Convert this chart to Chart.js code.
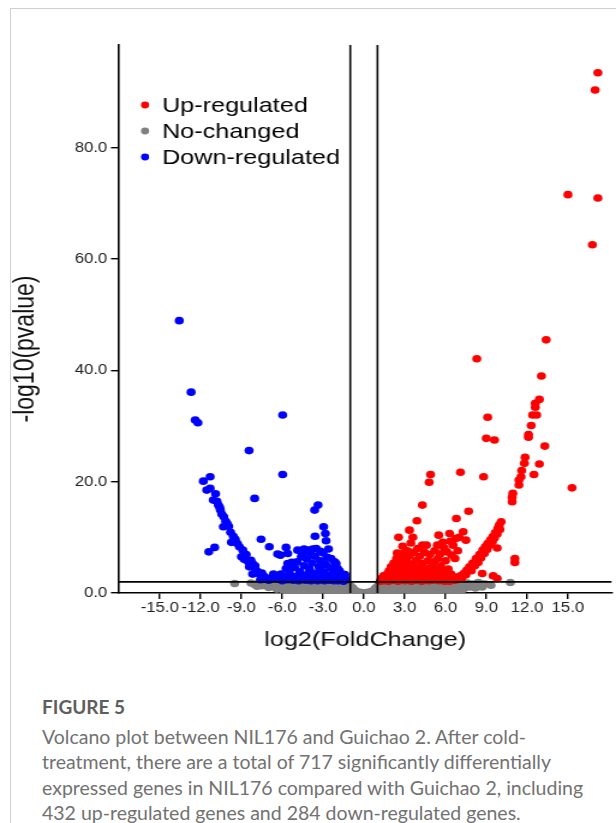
<!DOCTYPE html>
<html>
<head>
<meta charset="utf-8">
<script src="https://cdn.jsdelivr.net/npm/chart.js@4.4.1/dist/chart.umd.min.js"></script>
<style>
  html, body { margin: 0; padding: 0; background: #fff; width: 616px; height: 823px; overflow: hidden; }
  .card { position: absolute; left: 10px; top: 8px; width: 700px; height: 900px; border-left: 1px solid #cfcfcf; border-top: 1px solid #cfcfcf; }
  #volcano { position: absolute; left: 0; top: 0; transform-origin: 0 0; transform: scaleX(1.2008); }
  .fig-label { position: absolute; left: 42px; top: 695px; font: 700 19px Lato, sans-serif; line-height: 24px; color: #5e5e5e; }
  .caption { position: absolute; left: 42px; top: 724px; font: 400 19.5px Lato, sans-serif; line-height: 25.4px; color: #727272; white-space: nowrap; }
</style>
</head>
<body>
<div class="card"></div>
<canvas id="volcano" width="513" height="660" style="width:513px;height:660px"></canvas>
<div class="fig-label">FIGURE 5</div>
<div class="caption">Volcano plot between NIL176 and Guichao 2. After cold-<br>treatment, there are a total of 717 significantly differentially<br>expressed genes in NIL176 compared with Guichao 2, including<br>432 up-regulated genes and 284 down-regulated genes.</div>
<script>
// axis ticks and thresholds
const xTicks = [-15, -12, -9, -6, -3, 0, 3, 6, 9, 12, 15];
const yTicks = [0, 20, 40, 60, 80];
const foldCut = 1;     // |log2FC| line
const pCut = 2;        // -log10(p) line

const seriesNames = ['Up-regulated', 'No-changed', 'Down-regulated'];
const seriesColors = ['#ff0000', '#808080', '#0000ff'];

// [log2FC, -log10(p)]
const upPoints = [
    [17.2, 93.5], [17.0, 90.4], [15.0, 71.6], [17.2, 71.0], [16.8, 62.6], [15.3, 18.9],
    [13.4, 45.5], [8.3, 42.1], [13.05, 39.0], [12.9, 34.8], [12.6, 34.1], [12.6, 33.4],
    [12.4, 32.0], [12.7, 32.0], [12.3, 30.1], [12.1, 28.5], [12.1, 28.0], [9.1, 31.6],
    [9.0, 27.8], [9.6, 27.5], [13.3, 26.4], [11.85, 24.4], [11.8, 23.3], [12.9, 23.2],
    [12.5, 21.3], [11.6, 22.0], [11.55, 20.9], [11.4, 20.3], [11.4, 19.4], [10.95, 17.9],
    [10.9, 17.2], [10.9, 16.4], [8.8, 20.9], [7.1, 21.7], [4.9, 21.3], [4.8, 19.9],
    [4.3, 15.8], [7.7, 14.7], [6.8, 13.4], [3.9, 13.0], [3.35, 11.3], [2.55, 10.0],
    [3.6, 10.0], [5.5, 10.4], [6.3, 10.7], [7.3, 11.0], [7.0, 10.0], [7.5, 9.5],
    [4.3, 8.6], [4.6, 8.6], [11.1, 6.2], [11.1, 5.5], [9.8, 8.1], [6.7, 6.2],
    [8.7, 3.5], [9.5, 3.1], [9.8, 2.6],
    [6.65, 2.3], [6.9, 2.8], [7.1, 3.1], [7.34, 3.5], [7.55, 4.1], [7.76, 4.7],
    [8.0, 5.4], [8.25, 6.2], [8.5, 6.9], [8.74, 7.7], [8.92, 8.3], [9.1, 8.9],
    [9.3, 9.5], [9.47, 10.1], [9.65, 10.8], [9.84, 11.6], [9.95, 12.2], [10.09, 12.8],
    [6.3, 2.1], [6.8, 2.4], [7.2, 2.7], [7.5, 3.3], [7.9, 4.0], [8.15, 4.9],
    [8.4, 5.5], [8.6, 6.3], [8.85, 7.1], [9.05, 7.8], [9.25, 8.6], [9.45, 9.2],
    [9.6, 9.9], [9.8, 10.6], [10.0, 11.4],
    [1.2, 2.1], [1.3, 2.6], [1.45, 3.1], [1.5, 2.2], [1.65, 2.6], [1.7, 3.4],
    [1.8, 2.1], [1.85, 4.0], [1.95, 3.0], [2.0, 4.7], [2.1, 2.3], [2.15, 3.6],
    [2.2, 5.4], [2.3, 2.9], [2.35, 4.3], [2.4, 6.2], [2.45, 7.2], [2.5, 2.1],
    [2.6, 3.3], [2.65, 5.0], [2.7, 2.6], [2.75, 4.1], [2.8, 6.0], [2.85, 8.4],
    [2.9, 7.1], [2.95, 3.6], [3.0, 2.2], [3.05, 4.8], [3.1, 3.0], [3.15, 5.9],
    [3.2, 7.6], [3.25, 2.4], [3.3, 4.2], [3.35, 6.7], [3.4, 3.5], [3.45, 9.0],
    [3.5, 2.1], [3.55, 5.2], [3.6, 2.9], [3.65, 7.3], [3.7, 4.1], [3.8, 2.3],
    [3.85, 5.9], [3.9, 3.5], [3.95, 8.0], [4.0, 2.6], [4.05, 4.6], [4.1, 6.6],
    [4.2, 3.2], [4.25, 2.1], [4.3, 5.3], [4.4, 3.9], [4.45, 7.3], [4.5, 2.5],
    [4.55, 4.4], [4.6, 3.2], [4.7, 5.8], [4.75, 2.2], [4.8, 3.8], [4.85, 6.9],
    [4.95, 2.9], [5.0, 4.8], [5.05, 2.3], [5.1, 3.6], [5.15, 5.6], [5.2, 7.6],
    [5.3, 2.8], [5.35, 4.3], [5.4, 8.6], [5.45, 6.2], [5.5, 2.2], [5.55, 3.4],
    [5.6, 7.0], [5.65, 4.9], [5.7, 2.5], [5.8, 9.1], [5.85, 3.9], [5.9, 8.1],
    [5.95, 2.1], [6.0, 5.8], [6.05, 3.0], [6.1, 7.4], [6.2, 4.3], [6.25, 2.4],
    [6.35, 9.3], [6.4, 3.4], [6.45, 6.8], [6.55, 8.6], [6.6, 2.9], [6.75, 9.8],
    [6.9, 7.6]
];

const noPoints = [
    [-9.5, 1.7], [-8.3, 1.8], [-8.0, 1.5], [-7.7, 1.9], [-7.5, 1.3], [-7.2, 1.7],
    [-7.0, 1.0], [-6.8, 1.8], [-6.6, 1.3], [-6.4, 0.7], [-6.3, 1.8], [-6.1, 1.1],
    [-5.9, 0.5], [-5.8, 1.6], [-5.6, 0.9], [-5.4, 0.3], [-5.3, 1.4], [-5.1, 1.9],
    [-5.0, 0.7], [-4.8, 0.2], [-4.7, 1.3], [-4.5, 0.8], [-4.4, 1.9], [-4.3, 0.3],
    [-4.1, 1.4], [-4.0, 0.6], [-3.8, 0.1], [-3.7, 1.8], [-3.6, 1.0], [-3.4, 0.4],
    [-3.3, 1.5], [-3.1, 0.9], [-3.0, 0.1], [-2.9, 1.9], [-2.7, 1.3], [-2.6, 0.5],
    [-2.4, 1.0], [-2.3, 1.8], [-2.2, 0.2], [-2.0, 1.4], [-1.9, 0.7], [-1.7, 1.9],
    [-1.6, 0.3], [-1.5, 1.2], [-1.3, 0.8], [-1.2, 1.7], [-1.1, 0.3], [-1.0, 1.3],
    [-0.9, 0.6], [-0.8, 0.9], [-0.7, 0.2], [-0.6, 0.4], [-0.4, 0.15], [-0.2, 0.1],
    [0.0, 0.05], [0.2, 0.1], [0.4, 0.15], [0.6, 0.3], [0.7, 0.2], [0.8, 0.7],
    [0.9, 1.0], [1.0, 0.2], [1.1, 1.6], [1.2, 0.8], [1.4, 1.9], [1.5, 0.4],
    [1.6, 1.2], [1.8, 0.1], [1.9, 1.7], [2.0, 0.9], [2.2, 0.3], [2.3, 1.4],
    [2.5, 1.9], [2.6, 0.6], [2.8, 1.1], [2.9, 0.1], [3.1, 1.7], [3.2, 0.5],
    [3.4, 1.2], [3.6, 1.9], [3.7, 0.3], [3.9, 0.9], [4.0, 1.5], [4.2, 0.2],
    [4.3, 1.9], [4.5, 0.7], [4.6, 1.3], [4.8, 0.1], [5.0, 1.8], [5.1, 0.9],
    [5.3, 0.4], [5.4, 1.4], [5.6, 1.9], [5.7, 0.6], [5.9, 1.1], [6.1, 0.2],
    [6.2, 1.7], [6.4, 0.8], [6.5, 1.4], [6.7, 0.4], [6.9, 1.9], [7.0, 1.0],
    [7.2, 0.5], [7.3, 1.5], [7.4, 0.85], [7.6, 1.8], [7.8, 1.1], [8.0, 1.6],
    [8.2, 0.9], [8.4, 1.9], [8.7, 1.1], [8.9, 1.6], [9.35, 1.4], [10.77, 1.9],
    [-7.85, 1.2], [-6.95, 1.5], [-6.5, 1.0], [-5.7, 1.2], [-4.9, 1.1], [-4.2, 1.0],
    [-3.5, 1.3], [-2.8, 0.7], [-2.1, 0.9], [-1.4, 1.5], [1.3, 1.3], [1.7, 0.6],
    [2.4, 1.1], [3.0, 1.4], [3.5, 0.8], [4.1, 1.1], [4.7, 1.6], [5.2, 1.3],
    [5.8, 1.5], [6.3, 1.2], [6.8, 1.3], [7.5, 1.2], [8.1, 1.3], [8.6, 1.7]
];

const downPoints = [
    [-13.57, 48.95], [-12.7, 36.1], [-12.4, 31.1], [-12.2, 30.6], [-5.97, 32.0], [-8.44, 25.6],
    [-5.97, 21.3], [-11.3, 20.9], [-11.8, 20.1], [-11.55, 18.5], [-11.3, 18.8], [-10.9, 17.85],
    [-11.07, 16.7], [-8.03, 17.0], [-10.7, 15.8], [-10.6, 15.4], [-10.55, 14.9], [-10.3, 13.7],
    [-10.16, 12.9], [-10.33, 11.9], [-9.94, 12.0], [-9.8, 10.9], [-9.74, 9.1], [-9.45, 9.65],
    [-9.3, 8.9], [-11.4, 7.4], [-10.97, 8.2], [-8.9, 7.7], [-9.0, 6.5], [-8.8, 6.05],
    [-8.5, 5.6], [-8.42, 4.7], [-8.18, 5.3], [-7.93, 4.1], [-8.18, 3.4], [-7.68, 3.4],
    [-7.39, 3.05], [-7.19, 2.6], [-7.56, 9.65], [-6.95, 8.3], [-6.65, 3.4], [-6.34, 7.0],
    [-6.14, 6.8], [-5.72, 8.2], [-5.6, 7.1], [-5.72, 4.4], [-5.48, 4.1], [-4.87, 7.7],
    [-4.5, 7.2], [-4.13, 7.7], [-3.76, 7.9], [-3.62, 14.9], [-3.37, 15.8], [-2.96, 11.9],
    [-2.83, 10.7], [-2.78, 9.4], [-3.59, 10.2], [-2.41, 6.2], [-2.04, 5.3], [-1.93, 4.4],
    [-1.68, 3.5], [-1.56, 2.9],
    [-10.8, 16.5], [-10.45, 14.2], [-10.05, 12.5], [-9.6, 10.2], [-9.15, 8.3], [-8.65, 6.9],
    [-8.3, 5.9], [-8.0, 4.9], [-7.8, 3.8], [-7.5, 3.6], [-7.3, 2.9], [-7.0, 2.3],
    [-6.8, 2.7], [-7.6, 2.4],
    [-6.3, 2.5], [-6.1, 3.4], [-6.0, 2.2], [-5.8, 3.0], [-5.6, 2.4], [-5.4, 3.2],
    [-5.3, 5.5], [-5.2, 2.3], [-5.1, 4.6], [-5.0, 3.0], [-4.9, 5.6], [-4.8, 2.2],
    [-4.7, 3.8], [-4.6, 6.5], [-4.5, 2.9], [-4.4, 4.9], [-4.3, 2.3], [-4.2, 6.1],
    [-4.1, 3.4], [-4.0, 4.3], [-3.9, 2.2], [-3.8, 5.4], [-3.7, 2.9], [-3.6, 6.6],
    [-3.5, 3.6], [-3.4, 2.2], [-3.3, 4.7], [-3.2, 5.8], [-3.1, 2.9], [-3.0, 7.2],
    [-2.95, 3.8], [-2.9, 2.2], [-2.8, 5.1], [-2.7, 6.4], [-2.6, 3.2], [-2.5, 2.3],
    [-2.45, 4.5], [-2.3, 3.4], [-2.2, 2.2], [-2.15, 5.6], [-2.0, 3.0], [-1.9, 2.2],
    [-1.8, 4.0], [-1.7, 2.6], [-1.5, 2.1], [-1.4, 3.3], [-1.3, 2.4], [-3.5, 8.0],
    [-3.2, 7.5], [-2.6, 7.9], [-4.4, 7.9], [-5.6, 5.3], [-3.9, 6.9]
];

const tickFont = { family: "'Liberation Sans', Arial, sans-serif", size: 14 };

function asXY(list) {
    return list.map(p => ({ x: p[0], y: p[1] }));
}

// threshold lines drawn over the points
const cutLines = {
    id: 'cutLines',
    afterDatasetsDraw(chart) {
        const { ctx, chartArea, scales } = chart;
        ctx.save();
        ctx.strokeStyle = '#000';
        ctx.lineWidth = 1.6;
        [-foldCut, foldCut].forEach(v => {
            const px = scales.x.getPixelForValue(v);
            ctx.beginPath();
            ctx.moveTo(px, chartArea.top);
            ctx.lineTo(px, chartArea.bottom);
            ctx.stroke();
        });
        const py = scales.y.getPixelForValue(pCut);
        ctx.lineWidth = 1.8;
        ctx.beginPath();
        ctx.moveTo(chartArea.left, py);
        ctx.lineTo(chartArea.right, py);
        ctx.stroke();
        ctx.restore();
    }
};

// legend inside plot + rotated y title
const insideLegend = {
    id: 'insideLegend',
    afterDraw(chart) {
        const { ctx, chartArea } = chart;
        ctx.save();
        ctx.font = "21px 'Liberation Sans', Arial, sans-serif";
        ctx.textBaseline = 'middle';
        chart.data.datasets.forEach((ds, i) => {
            const y = 105 + i * 26;
            ctx.fillStyle = ds.backgroundColor;
            ctx.beginPath();
            ctx.arc(chartArea.left + 21.7, y, 3.4, 0, Math.PI * 2);
            ctx.fill();
            ctx.fillStyle = '#000';
            ctx.fillText(ds.label, chartArea.left + 35.8, y + 1);
        });
        ctx.translate(21.5, (chartArea.top + chartArea.bottom) / 2 + 30);
        ctx.rotate(-Math.PI / 2);
        ctx.textAlign = 'center';
        ctx.font = "23px 'Liberation Sans', Arial, sans-serif";
        ctx.fillStyle = '#111';
        ctx.fillText('-log10(pvalue)', 0, 0);
        ctx.restore();
    }
};

const seriesData = [upPoints, noPoints, downPoints];

new Chart(document.getElementById('volcano'), {
    type: 'scatter',
    data: {
        datasets: seriesData.map((pts, i) => ({
            label: seriesNames[i],
            data: asXY(pts),
            backgroundColor: seriesColors[i],
            borderWidth: 0,
            pointRadius: 3.8,
            pointHoverRadius: 3.8,
            order: i === 1 ? 3 : (i === 0 ? 1 : 2),
            clip: 0
        }))
    },
    options: {
        responsive: false,
        animation: false,
        events: [],
        layout: { padding: { left: 59.1, right: 3.3, top: 45, bottom: 7 } },
        plugins: { legend: { display: false }, tooltip: { enabled: false } },
        scales: {
            x: {
                type: 'linear',
                min: -18,
                max: 18.2,
                afterBuildTicks: s => { s.ticks = xTicks.map(v => ({ value: v })); },
                afterFit: s => { s.height = 60; },
                grid: { drawOnChartArea: false, color: '#000', tickColor: '#000', tickLength: 6, lineWidth: 1.4 },
                border: { color: '#000', width: 1.6 },
                ticks: { font: tickFont, color: '#222', padding: 1, maxRotation: 0, autoSkip: false,
                    callback: v => Number(v).toFixed(1) },
                title: { display: true, text: 'log2(FoldChange)', color: '#111', padding: 0,
                    font: { family: "'Liberation Sans', Arial, sans-serif", size: 21 } }
            },
            y: {
                type: 'linear',
                min: 0,
                max: 98.5,
                afterBuildTicks: s => { s.ticks = yTicks.map(v => ({ value: v })); },
                afterFit: s => { s.width = 40; },
                grid: { drawOnChartArea: false, color: '#000', tickColor: '#000', tickLength: 6.7, lineWidth: 1.4 },
                border: { color: '#000', width: 1.6 },
                ticks: { font: tickFont, color: '#222', padding: 3, autoSkip: false,
                    callback: v => Number(v).toFixed(1) }
            }
        }
    },
    plugins: [cutLines, insideLegend]
});
</script>
</body>
</html>
